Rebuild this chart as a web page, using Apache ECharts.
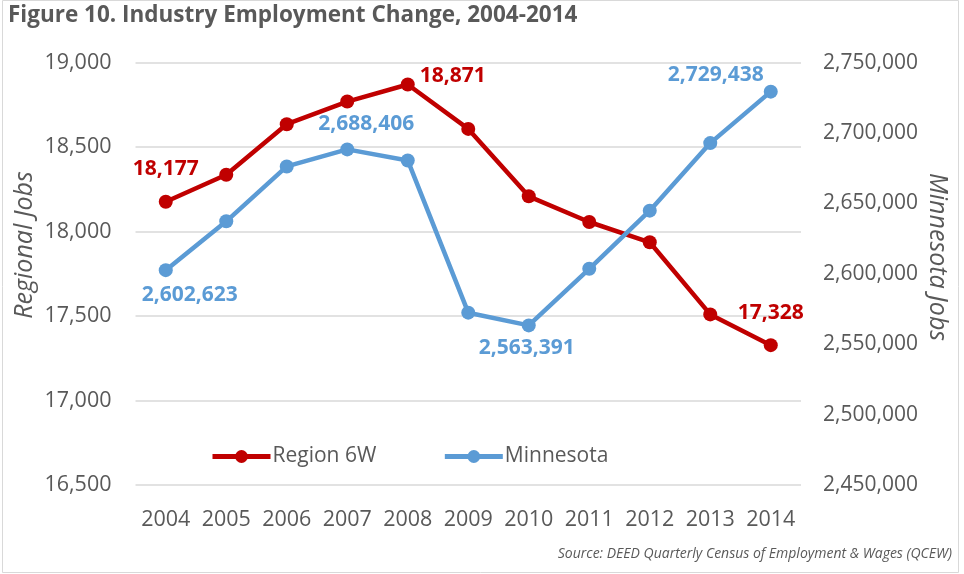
<!DOCTYPE html>
<html><head><meta charset="utf-8">
<script src="https://cdn.jsdelivr.net/npm/echarts@6/dist/echarts.min.js"></script>
<style>html,body{margin:0;padding:0;background:#fff}#c{width:964px;height:574px}</style>
</head><body><div id="c"></div>
<script>
const years = ['2004','2005','2006','2007','2008','2009','2010','2011','2012','2013','2014'];
const region6W = [18177, 18337, 18636, 18770, 18871, 18608, 18209, 18057, 17937, 17510, 17328];
const minnesota = [2602623, 2637330, 2676304, 2688406, 2680556, 2572420, 2563391, 2603600, 2644912, 2692885, 2729438];
const seriesNames = ['Region 6W', 'Minnesota'];
const leftAxis = {min: 16500, max: 19000, interval: 500};
const rightAxis = {min: 2450000, max: 2750000, interval: 50000};
const titleText = 'Figure 10. Industry Employment Change, 2004-2014';
const leftName = 'Regional Jobs';
const rightName = 'Minnesota Jobs';
const sourceText = 'Source: DEED Quarterly Census of Employment & Wages (QCEW)';

const RED = '#C00000', BLUE = '#5B9BD5', GREY = '#595959';
const FONT = '"Open Sans", "Noto Sans", sans-serif';
const fmt = v => v.toLocaleString('en-US');

const redLabels = {
  0: {position: 'top', offset: [0, -10]},
  4: {position: 'right', offset: [0, -8]},
  10: {position: 'top', offset: [0, -10]}
};
const blueLabels = {
  0: {position: 'bottom', offset: [24, 2]},
  3: {position: 'top', offset: [19, -3]},
  6: {position: 'bottom', offset: [-2, 0]},
  10: {position: 'top', offset: [-55, 6]}
};
function build(values, labels, color) {
  return values.map((v, i) => {
    const item = {value: v};
    if (labels[i]) {
      item.label = Object.assign({show: true, formatter: p => fmt(p.value), color: color,
        fontWeight: 'bold', fontSize: 21, fontFamily: FONT, distance: 5}, labels[i]);
    }
    return item;
  });
}

const chart = echarts.init(document.getElementById('c'), null, {renderer: 'canvas'});
chart.setOption({
  animation: false,
  backgroundColor: '#fff',
  textStyle: {fontFamily: FONT},
  grid: {left: 135.5, right: 163, top: 62.7, bottom: 89, containLabel: false},
  legend: {
    left: 205, top: 441,
    itemWidth: 58, itemHeight: 16, itemGap: 66,
    lineStyle: {width: 5},
    textStyle: {color: GREY, fontSize: 21, fontFamily: FONT, padding: [0, 0, 0, -3]},
    data: seriesNames
  },
  xAxis: {
    type: 'category', data: years, boundaryGap: true,
    axisLine: {show: false}, axisTick: {show: false},
    axisLabel: {color: GREY, fontSize: 21.5, fontFamily: FONT, margin: 24, interval: 0, hideOverlap: false}
  },
  yAxis: [
    {type: 'value', min: leftAxis.min, max: leftAxis.max, interval: leftAxis.interval, position: 'left',
      axisLine: {show: false}, axisTick: {show: false},
      axisLabel: {color: GREY, fontSize: 21.5, fontFamily: FONT, margin: 24, formatter: v => fmt(v)},
      splitLine: {show: true, lineStyle: {color: '#d9d9d9', width: 1.5}}},
    {type: 'value', min: rightAxis.min, max: rightAxis.max, interval: rightAxis.interval, position: 'right',
      axisLine: {show: false}, axisTick: {show: false},
      axisLabel: {color: GREY, fontSize: 21, fontFamily: FONT, margin: 22, formatter: v => fmt(v)},
      splitLine: {show: false}}
  ],
  series: [
    {name: seriesNames[0], type: 'line', yAxisIndex: 0, data: build(region6W, redLabels, RED),
      symbol: 'circle', symbolSize: 14, lineStyle: {color: RED, width: 4.5}, itemStyle: {color: RED}, z: 2},
    {name: seriesNames[1], type: 'line', yAxisIndex: 1, data: build(minnesota, blueLabels, BLUE),
      symbol: 'circle', symbolSize: 14, lineStyle: {color: BLUE, width: 4.5}, itemStyle: {color: BLUE}, z: 3}
  ],
  graphic: [
    {type: 'rect', silent: true, z: -10, shape: {x: 2.5, y: 0.5, width: 956, height: 572},
      style: {fill: 'none', stroke: '#d9d9d9', lineWidth: 1}},
    {type: 'text', left: 8, top: 4, style: {text: titleText, fill: GREY, font: 'bold 22.5px ' + FONT}},
    {type: 'text', x: 25, y: 245, rotation: Math.PI / 2,
      style: {text: leftName, fill: GREY, font: 'italic 25px ' + FONT, textAlign: 'center', textVerticalAlign: 'middle'}},
    {type: 'text', x: 937, y: 257, rotation: -Math.PI / 2,
      style: {text: rightName, fill: GREY, font: 'italic 25px ' + FONT, textAlign: 'center', textVerticalAlign: 'middle'}},
    {type: 'text', right: 12, top: 547, style: {text: sourceText, fill: GREY, font: 'italic 14px ' + FONT}}
  ]
});
</script></body></html>
